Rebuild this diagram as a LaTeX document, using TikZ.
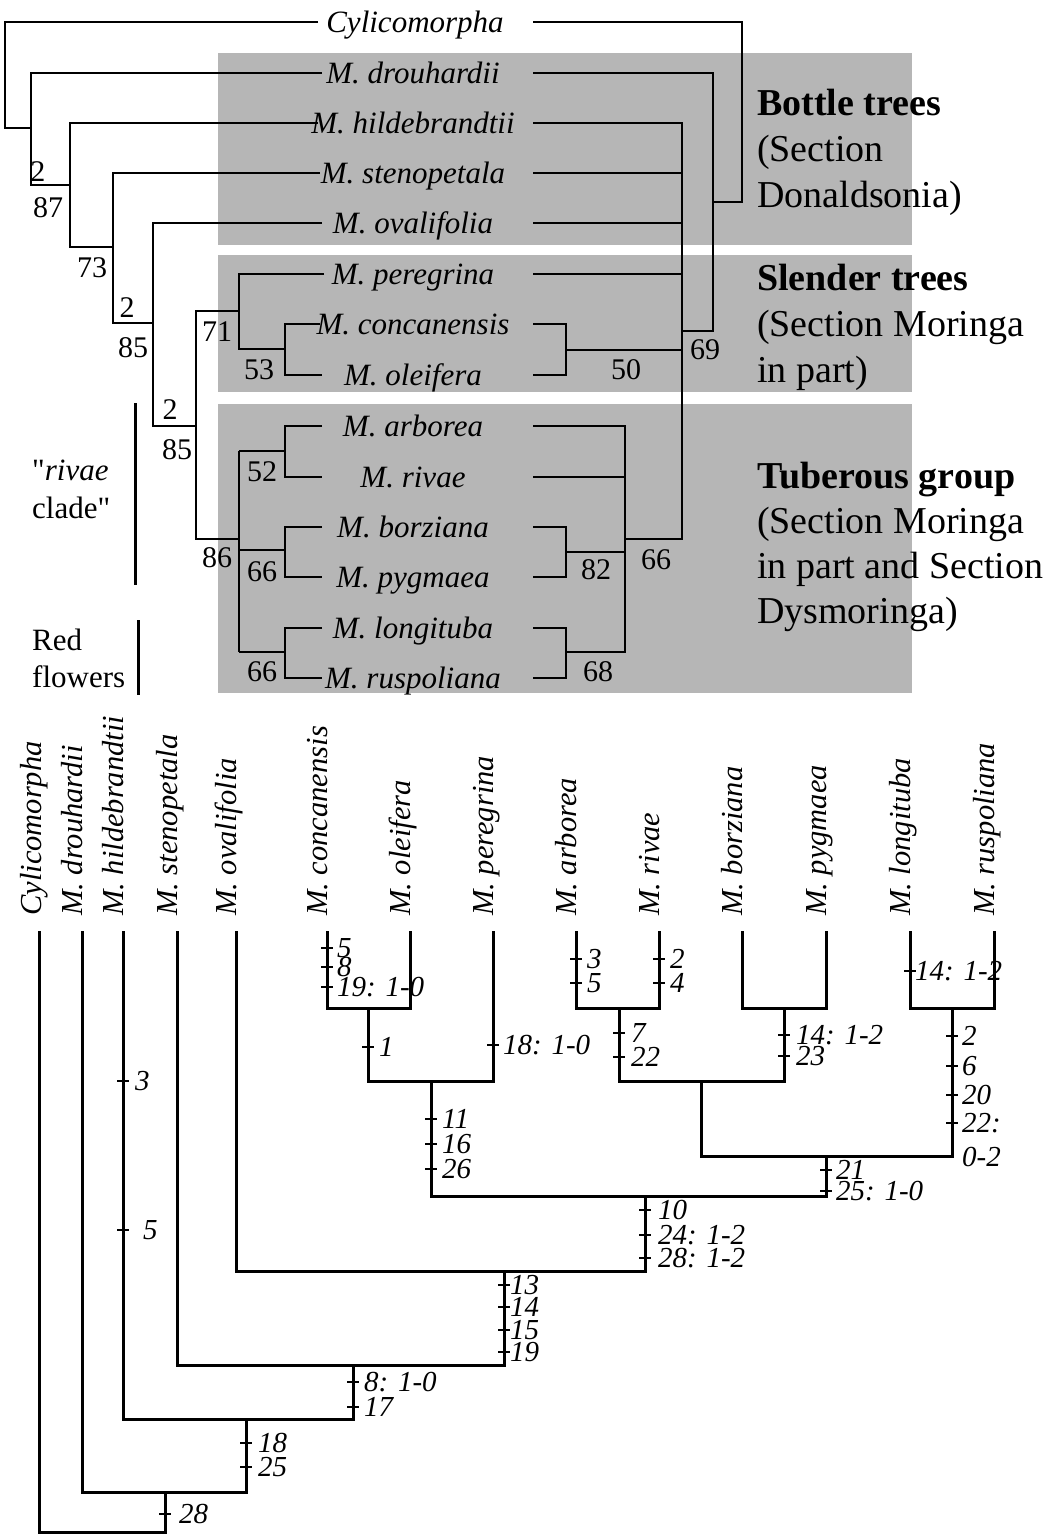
\documentclass[tikz,border=0pt]{standalone}
\usepackage{fontspec}
\setmainfont{Liberation Serif}
\definecolor{boxgray}{RGB}{182,182,182}
\newcommand\fSp{\fontsize{31}{36}\selectfont\itshape}
\newcommand\fNum{\fontsize{30}{36}\selectfont}
\newcommand\fGrp{\fontsize{38}{44}\selectfont}
\newcommand\fBot{\fontsize{30.5}{36}\selectfont\itshape}
\newcommand\fTick{\fontsize{29}{34}\selectfont\itshape}
% tick with label: #1 name, #2 x, #3 y, #4 label offset, #5 label
\newcommand\mytick[5]{%
  \draw[tickline] ({#2-6},#3) -- ({#2+6},#3);
  \node[ticklab] (#1) at ({#2+#4},{#3+9.5}) {#5};}
\begin{document}
\begin{tikzpicture}[x=1pt,y=-1pt,
  grp box/.style={fill=boxgray,draw=none},
  tl/.style={line width=1.3pt,line join=miter},
  bl/.style={line width=3pt,line cap=rect,line join=miter},
  tickline/.style={line width=2.6pt},
  ticklab/.style={anchor=base west,inner sep=0,font=\fTick},
  sp/.style={anchor=base,inner sep=0,font=\fSp},
  num/.style={anchor=center,inner sep=0,font=\fNum},
  grptxt/.style={anchor=base west,inner sep=0,font=\fGrp},
  side/.style={anchor=base west,inner sep=0,font=\fSp\upshape},
  bar/.style={line width=3pt},
  botsp/.style={rotate=90,anchor=base west,inner sep=0,font=\fBot}]
\useasboundingbox (0,0) rectangle (1047,1535);

% grey group boxes
\fill[grp box] (218,53) rectangle (912,245);
\fill[grp box] (218,255) rectangle (912,392);
\fill[grp box] (218,404) rectangle (912,693);

% ---------- top tree: species names ----------
\node[sp] (tCyl) at (415,32) {Cylicomorpha};
\node[sp] (tDro) at (413,83) {M. drouhardii};
\node[sp] (tHil) at (413,133) {M. hildebrandtii};
\node[sp] (tSte) at (413,183) {M. stenopetala};
\node[sp] (tOva) at (413,233) {M. ovalifolia};
\node[sp] (tPer) at (413,284) {M. peregrina};
\node[sp] (tCon) at (413,334) {M. concanensis};
\node[sp] (tOle) at (413,385) {M. oleifera};
\node[sp] (tArb) at (413,436) {M. arborea};
\node[sp] (tRiv) at (413,487) {M. rivae};
\node[sp] (tBor) at (413,537) {M. borziana};
\node[sp] (tPyg) at (413,587) {M. pygmaea};
\node[sp] (tLon) at (413,638) {M. longituba};
\node[sp] (tRus) at (413,688) {M. ruspoliana};

% ---------- top tree: left cladogram ----------
\draw[tl] (318,22) -- (5,22) -- (5,128) -- (31,128);
\draw[tl] (322,73) -- (31,73) -- (31,185) -- (70,185);
\draw[tl] (318,123) -- (70,123) -- (70,247) -- (113,247);
\draw[tl] (320,173) -- (113,173) -- (113,323) -- (153,323);
\draw[tl] (322,223) -- (153,223) -- (153,426) -- (196,426);
\draw[tl] (239,311) -- (196,311) -- (196,539) -- (239,539);
\draw[tl] (324,274) -- (239,274) -- (239,349) -- (285,349);
\draw[tl] (320,324) -- (285,324) -- (285,375) -- (322,375);
\draw[tl] (239,451) -- (239,652);
\draw[tl] (239,451) -- (285,451);
\draw[tl] (239,550) -- (285,550);
\draw[tl] (239,652) -- (285,652);
\draw[tl] (322,426) -- (285,426) -- (285,477) -- (322,477);
\draw[tl] (322,527) -- (285,527) -- (285,577) -- (322,577);
\draw[tl] (322,628) -- (285,628) -- (285,678) -- (322,678);

% ---------- top tree: right cladogram ----------
\draw[tl] (533,22) -- (742,22) -- (742,202) -- (713,202);
\draw[tl] (533,73) -- (713,73) -- (713,331) -- (682,331);
\draw[tl] (533,123) -- (682,123) -- (682,539) -- (625,539);
\draw[tl] (533,173) -- (682,173);
\draw[tl] (533,223) -- (682,223);
\draw[tl] (533,274) -- (682,274);
\draw[tl] (533,324) -- (566,324) -- (566,375) -- (533,375);
\draw[tl] (566,350) -- (682,350);
\draw[tl] (533,426) -- (625,426) -- (625,652) -- (566,652);
\draw[tl] (533,477) -- (625,477);
\draw[tl] (533,527) -- (566,527) -- (566,577) -- (533,577);
\draw[tl] (566,552) -- (625,552);
\draw[tl] (533,628) -- (566,628) -- (566,678) -- (533,678);

% ---------- support values ----------
\node[num] (s1) at (38,172) {2};
\node[num] (s2) at (48,208) {87};
\node[num] (s3) at (92,268) {73};
\node[num] (s4) at (127,308) {2};
\node[num] (s5) at (133,348) {85};
\node[num] (s6) at (170,410) {2};
\node[num] (s7) at (177,450) {85};
\node[num] (s8) at (217,332) {71};
\node[num] (s9) at (259,370) {53};
\node[num] (s10) at (217,558) {86};
\node[num] (s11) at (262,472) {52};
\node[num] (s12) at (262,572) {66};
\node[num] (s13) at (262,672) {66};
\node[num] (s14) at (705,350) {69};
\node[num] (s15) at (626,370) {50};
\node[num] (s16) at (596,570) {82};
\node[num] (s17) at (656,560) {66};
\node[num] (s18) at (598,672) {68};

% ---------- side labels ----------
\node[side] (riv1) at (32,480) {\textquotedbl\textit{rivae}};
\node[side] (riv2) at (32,518) {clade\textquotedbl};
\draw[bar] (135,403) -- (135,585);
\node[side] (red1) at (32,650) {Red};
\node[side] (red2) at (32,687) {flowers};
\draw[bar] (138,620) -- (138,695);

\node[grptxt,font=\fGrp\bfseries] (g1a) at (757,115) {Bottle trees};
\node[grptxt] (g1b) at (757,161) {(Section};
\node[grptxt] (g1c) at (757,207) {Donaldsonia)};
\node[grptxt,font=\fGrp\bfseries] (g2a) at (757,290) {Slender trees};
\node[grptxt] (g2b) at (757,336) {(Section Moringa};
\node[grptxt] (g2c) at (757,382) {in part)};
\node[grptxt,font=\fGrp\bfseries] (g3a) at (757,488) {Tuberous group};
\node[grptxt] (g3b) at (757,533) {(Section Moringa};
\node[grptxt] (g3c) at (757,578) {in part and Section};
\node[grptxt] (g3d) at (757,623) {Dysmoringa)};

% ---------- bottom tree: rotated names ----------
\node[botsp] (bCyl) at (41,916) {Cylicomorpha};
\node[botsp] (bDro) at (82,916) {M. drouhardii};
\node[botsp] (bHil) at (123,916) {M. hildebrandtii};
\node[botsp] (bSte) at (177,916) {M. stenopetala};
\node[botsp] (bOva) at (236,916) {M. ovalifolia};
\node[botsp] (bCon) at (327,916) {M. concanensis};
\node[botsp] (bOle) at (410,916) {M. oleifera};
\node[botsp] (bPer) at (493,916) {M. peregrina};
\node[botsp] (bArb) at (576,916) {M. arborea};
\node[botsp] (bRiv) at (659,916) {M. rivae};
\node[botsp] (bBor) at (742,916) {M. borziana};
\node[botsp] (bPyg) at (826,916) {M. pygmaea};
\node[botsp] (bLon) at (910,916) {M. longituba};
\node[botsp] (bRus) at (994,916) {M. ruspoliana};

% ---------- bottom tree: branches ----------
\draw[bl] (39,932) -- (39,1532) -- (165,1532) -- (165,1492);
\draw[bl] (82,932) -- (82,1492) -- (246,1492) -- (246,1419);
\draw[bl] (123,932) -- (123,1419) -- (353,1419) -- (353,1365);
\draw[bl] (177,932) -- (177,1365) -- (504,1365) -- (504,1271);
\draw[bl] (236,932) -- (236,1271) -- (645,1271) -- (645,1196);
\draw[bl] (431,1081) -- (431,1196) -- (826,1196) -- (826,1156);
\draw[bl] (368,1008) -- (368,1081) -- (493,1081) -- (493,932);
\draw[bl] (327,932) -- (327,1008) -- (410,1008) -- (410,932);
\draw[bl] (701,1081) -- (701,1156) -- (952,1156) -- (952,1008);
\draw[bl] (619,1008) -- (619,1081) -- (784,1081) -- (784,1008);
\draw[bl] (576,932) -- (576,1008) -- (659,1008) -- (659,932);
\draw[bl] (742,932) -- (742,1008) -- (826,1008) -- (826,932);
\draw[bl] (910,932) -- (910,1008) -- (994,1008) -- (994,932);

% ---------- bottom tree: character changes ----------
\mytick{c1}{327}{948}{10}{5}
\mytick{c2}{327}{967}{10}{8}
\mytick{c3}{327}{987}{10}{19: 1-0}
\mytick{c4}{368}{1047}{11}{1}
\mytick{c5}{493}{1045}{10}{18: 1-0}
\mytick{c6}{431}{1119}{11}{11}
\mytick{c7}{431}{1144}{11}{16}
\mytick{c8}{431}{1169}{11}{26}
\mytick{c9}{504}{1285}{6}{13}
\mytick{c10}{504}{1307}{6}{14}
\mytick{c11}{504}{1330}{6}{15}
\mytick{c12}{504}{1352}{6}{19}
\mytick{c13}{353}{1382}{11}{8: 1-0}
\mytick{c14}{353}{1407}{11}{17}
\mytick{c15}{123}{1081}{12}{3}
\mytick{c16}{123}{1230}{20}{5}
\mytick{c17}{246}{1443}{12}{18}
\mytick{c18}{246}{1467}{12}{25}
\mytick{c19}{165}{1514}{14}{28}
\mytick{c20}{576}{959}{11}{3}
\mytick{c21}{576}{983}{11}{5}
\mytick{c22}{659}{959}{11}{2}
\mytick{c23}{659}{983}{11}{4}
\mytick{c24}{619}{1033}{12}{7}
\mytick{c25}{619}{1057}{12}{22}
\mytick{c26}{784}{1035}{12}{14: 1-2}
\mytick{c27}{784}{1056}{12}{23}
\mytick{c28}{910}{971}{5}{14: 1-2}
\mytick{c29}{952}{1036}{10}{2}
\mytick{c30}{952}{1066}{10}{6}
\mytick{c31}{952}{1095}{10}{20}
\mytick{c32}{952}{1123}{10}{22:}
\node[ticklab] (c33) at (962,1166) {0-2};
\mytick{c34}{826}{1170}{10}{21}
\mytick{c35}{826}{1191}{10}{25: 1-0}
\mytick{c36}{645}{1210}{13}{10}
\mytick{c37}{645}{1235}{13}{24: 1-2}
\mytick{c38}{645}{1258}{13}{28: 1-2}
\end{tikzpicture}
\end{document}
